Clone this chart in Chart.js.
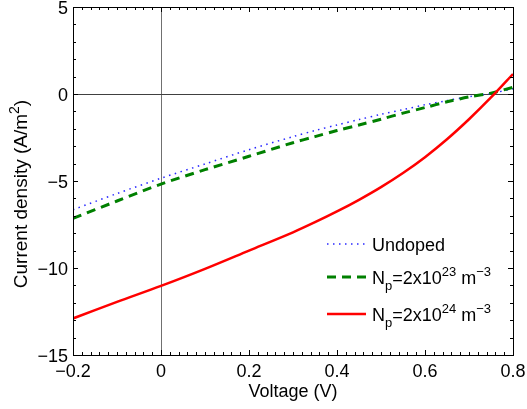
<!DOCTYPE html>
<html>
<head>
<meta charset="utf-8">
<script src="https://cdn.jsdelivr.net/npm/chart.js@4"></script>
<style>
  html, body { margin: 0; padding: 0; background: #fff; }
  canvas { display: block; }
</style>
</head>
<body>
<canvas id="c" width="527" height="409"></canvas>
<script>
// ---- data ----
const voltage  = [-0.2, -0.1, 0, 0.1, 0.2, 0.3, 0.35, 0.4, 0.45, 0.5, 0.55, 0.6, 0.65, 0.7, 0.75, 0.8];
const undoped  = [-6.65, -5.72, -4.84, -4.02, -3.2, -2.45, -2.1, -1.78, -1.47, -1.17, -0.9, -0.62, -0.38, -0.16, 0.03, 0.3];
const np2e23   = [-7.15, -6.15, -5.18, -4.35, -3.58, -2.8, -2.45, -2.1, -1.78, -1.45, -1.1, -0.78, -0.45, -0.17, 0.05, 0.38];
const np2e24   = [-12.9, -11.95, -11.03, -10.05, -9.0, -7.95, -7.37, -6.75, -6.08, -5.35, -4.54, -3.63, -2.6, -1.45, -0.2, 1.15];
const seriesLabels = ['Undoped', 'N_p=2x10^{23} m^{-3}', 'N_p=2x10^{24} m^{-3}'];
const xTickValues = [-0.2, 0, 0.2, 0.4, 0.6, 0.8];
const yTickValues = [-15, -10, -5, 0, 5];
const xTitle = 'Voltage (V)';
const yTitle = 'Current density (A/m^2)';

const FONT = '"Liberation Sans", Arial, Helvetica, sans-serif';
const MAIN = 18, SMALL = 13;

function toPts(ys) { return voltage.map((v, i) => ({ x: v, y: ys[i] })); }
function fmt(v, dec) {
  if (Math.abs(v) < 1e-9) return '0';
  return (v < 0 ? '\u2212' : '') + Math.abs(v).toFixed(dec);
}

// tiny parser: _x, _{..}, ^x, ^{..}
function parseRich(s) {
  const parts = []; let i = 0; let buf = '';
  while (i < s.length) {
    const ch = s[i];
    if (ch === '_' || ch === '^') {
      if (buf) { parts.push({ t: buf, k: 'n' }); buf = ''; }
      let t;
      if (s[i + 1] === '{') { const j = s.indexOf('}', i); t = s.slice(i + 2, j); i = j + 1; }
      else { t = s[i + 1]; i += 2; }
      t = t.replace(/-/g, '\u2212');
      parts.push({ t, k: ch === '_' ? 'sub' : 'sup' });
    } else { buf += ch; i++; }
  }
  if (buf) parts.push({ t: buf, k: 'n' });
  return parts;
}
function richWidth(ctx, parts, big, small) {
  let w = 0;
  for (const p of parts) { ctx.font = (p.k === 'n' ? big : small) + 'px ' + FONT; w += ctx.measureText(p.t).width; }
  return w;
}
function drawRich(ctx, parts, x, y, big, small) {
  ctx.textBaseline = 'alphabetic'; ctx.textAlign = 'left';
  for (const p of parts) {
    ctx.font = (p.k === 'n' ? big : small) + 'px ' + FONT;
    const dy = p.k === 'sup' ? -8 : (p.k === 'sub' ? 6 : 0);
    ctx.fillText(p.t, x, y + dy);
    x += ctx.measureText(p.t).width;
  }
}

const framePlugin = {
  id: 'frame',
  afterDraw(chart) {
    const { ctx, chartArea: a, scales: { x, y } } = chart;
    ctx.save();
    ctx.strokeStyle = '#000'; ctx.lineWidth = 1;
    // inward ticks on all four sides
    ctx.beginPath();
    for (let i = -10; i <= 40; i++) {
      const px = Math.round(x.getPixelForValue(i * 0.02)) + 0.5;
      const len = (i % 10 === 0) ? 5 : 3;
      ctx.moveTo(px, a.bottom); ctx.lineTo(px, a.bottom - len);
      ctx.moveTo(px, a.top); ctx.lineTo(px, a.top + len);
    }
    for (let v = -15; v <= 5; v++) {
      const py = Math.round(y.getPixelForValue(v)) + 0.5;
      const len = (v % 5 === 0) ? 5 : 3;
      ctx.moveTo(a.left, py); ctx.lineTo(a.left + len, py);
      ctx.moveTo(a.right, py); ctx.lineTo(a.right - len, py);
    }
    ctx.stroke();
    ctx.strokeRect(Math.round(a.left) + 0.5, Math.round(a.top) + 0.5,
                   Math.round(a.right - a.left), Math.round(a.bottom - a.top));

    // tick labels
    ctx.fillStyle = '#000';
    ctx.font = MAIN + 'px ' + FONT;
    ctx.textBaseline = 'alphabetic';
    ctx.textAlign = 'center';
    xTickValues.forEach(v => ctx.fillText(fmt(v, 1), x.getPixelForValue(v), a.bottom + 22));
    ctx.textAlign = 'right';
    yTickValues.forEach(v => ctx.fillText(fmt(v, 0), a.left - 5, y.getPixelForValue(v) + 6.5));

    // axis titles
    ctx.textAlign = 'center';
    ctx.fillText(xTitle, (a.left + a.right) / 2, a.bottom + 42);
    const yp = parseRich(yTitle);
    const w = richWidth(ctx, yp, 19, 14);
    ctx.save();
    ctx.translate(27, (a.top + a.bottom) / 2 + 13);
    ctx.rotate(-Math.PI / 2);
    drawRich(ctx, yp, -w / 2, 0, 19, 14);
    ctx.restore();

    // legend
    const rows = [a.bottom - 111, a.bottom - 78, a.bottom - 41];
    chart.data.datasets.forEach((ds, i) => {
      const ly = rows[i];
      ctx.save();
      ctx.strokeStyle = ds.borderColor; ctx.lineWidth = ds.borderWidth;
      ctx.setLineDash(ds.borderDash || []);
      ctx.beginPath(); ctx.moveTo(a.right - 186, ly); ctx.lineTo(a.right - 147, ly); ctx.stroke();
      ctx.restore();
      drawRich(ctx, parseRich(seriesLabels[i]), a.right - 141, ly + 7, MAIN, SMALL);
    });
    ctx.restore();
  }
};

new Chart(document.getElementById('c'), {
  type: 'line',
  data: {
    datasets: [
      { label: seriesLabels[0], data: toPts(undoped), borderColor: 'rgb(40,40,255)', borderWidth: 1.5, borderDash: [1.5, 4.5], order: 2 },
      { label: seriesLabels[1], data: toPts(np2e23), borderColor: 'rgb(0,128,0)', borderWidth: 3, borderDash: [9, 6], order: 1 },
      { label: seriesLabels[2], data: toPts(np2e24), borderColor: 'rgb(255,0,0)', borderWidth: 2.5, order: 0 }
    ]
  },
  options: {
    responsive: false, animation: false, devicePixelRatio: 1,
    layout: { padding: { top: 7, right: 14, left: 0, bottom: 0 } },
    elements: { point: { radius: 0 }, line: { tension: 0.3, fill: false } },
    plugins: { legend: { display: false }, tooltip: { enabled: false } },
    scales: {
      x: {
        type: 'linear', min: -0.2, max: 0.8,
        afterFit(s) { s.height = 54; },
        afterBuildTicks(s) { s.ticks = xTickValues.map(v => ({ value: v })); },
        ticks: { display: false },
        grid: { drawTicks: false, color: c => (c.tick && Math.abs(c.tick.value) < 1e-9) ? '#707070' : 'rgba(0,0,0,0)', lineWidth: 1 },
        border: { display: false }
      },
      y: {
        type: 'linear', min: -15, max: 5,
        afterFit(s) { s.width = 73; },
        afterBuildTicks(s) { s.ticks = yTickValues.map(v => ({ value: v })); },
        ticks: { display: false },
        grid: { drawTicks: false, color: c => (c.tick && Math.abs(c.tick.value) < 1e-9) ? '#404040' : 'rgba(0,0,0,0)', lineWidth: 1 },
        border: { display: false }
      }
    }
  },
  plugins: [framePlugin]
});
</script>
</body>
</html>
